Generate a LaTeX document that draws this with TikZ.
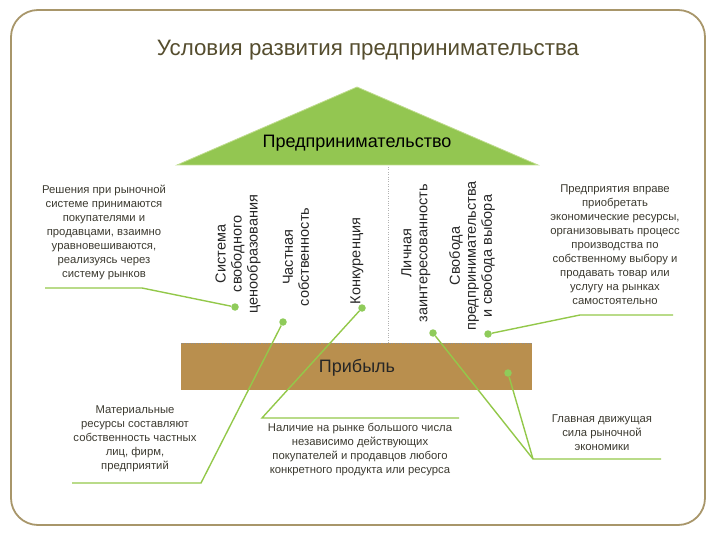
\documentclass[tikz,border=0pt]{standalone}
\usepackage{fontspec}
\setmainfont{Liberation Sans}
\usepackage{tikz}
\usetikzlibrary{positioning}
\definecolor{frameline}{HTML}{A8966A}
\definecolor{titlecol}{HTML}{554D2E}
\definecolor{roofgreen}{HTML}{93C651}
\definecolor{roofedge}{HTML}{BFDC8E}
\definecolor{barbrown}{HTML}{B98F4E}
\definecolor{leadgreen}{HTML}{93C84A}
\definecolor{dotgreen}{HTML}{8FCB5A}
\definecolor{notecol}{HTML}{3C3A30}

\begin{document}
\begin{tikzpicture}[x=1pt,y=-1pt,
    note/.style={align=center,anchor=north,inner sep=0pt,text=notecol,
      font=\fontsize{11.3}{14}\selectfont},
    pillar/.style={rotate=90,align=center,inner sep=0pt,text=black!85,
      font=\fontsize{14.5}{16}\selectfont},
    dot/.style={circle,fill=dotgreen,inner sep=0pt,minimum size=7.5pt},
    leader/.style={leadgreen,line width=1.4pt}]
  \useasboundingbox (0,0) rectangle (720,540);
  \draw[frameline,line width=1.8pt,rounded corners=27pt] (11,10) rectangle (705,525);
  \node[text=titlecol,font=\fontsize{22.3}{25}\selectfont] (title) at (368,50)
    {Условия развития предпринимательства};

  % roof
  \coordinate (apex) at (357,87);
  \coordinate (roofL) at (177,165);
  \coordinate (roofR) at (538,165);
  \filldraw[fill=roofgreen,draw=roofedge,line width=0.8pt] (roofL) -- (apex) -- (roofR) -- cycle;
  \node[font=\fontsize{18}{20}\selectfont] (entre) at (357,143) {Предпринимательство};
  \draw[gray!60,dotted] (388,167) -- (388,343);

  % base
  \fill[barbrown] (181,343) rectangle (532,390);
  \draw[black!45,dotted] (181,343.5) -- (532,343.5);
  \node[text=black!85,font=\fontsize{18}{20}\selectfont] (profit) at (357,368) {Прибыль};

  % pillars
  \node[pillar] (sys) at (238,254) {Система\\свободного\\ценообразования};
  \node[pillar] (own) at (296,257) {Частная\\собственность};
  \node[pillar] (comp) at (357,261) {Конкуренция};
  \node[pillar] (pers) at (416,253) {Личная\\заинтересованность};
  \node[pillar] (free) at (472,256) {Свобода\\предпринимательства\\и свобода выбора};

  % notes
  \node[note] (market) at (104,185) {Решения при рыночной\\системе принимаются\\покупателями и\\продавцами, взаимно\\уравновешиваются,\\реализуясь через\\систему рынков};
  \node[note] (rights) at (615,185) {Предприятия вправе\\приобретать\\экономические ресурсы,\\организовывать процесс\\производства по\\собственному выбору и\\продавать товар или\\услугу на рынках\\самостоятельно};
  \node[note] (matres) at (135,406) {Материальные\\ресурсы составляют\\собственность частных\\лиц, фирм,\\предприятий};
  \node[note] (many) at (360,423) {Наличие на рынке большого числа\\независимо действующих\\покупателей и продавцов любого\\конкретного продукта или ресурса};
  \node[note] (force) at (602,415) {Главная движущая\\сила рыночной\\экономики};

  % dots
  \node[dot] (d1) at (235,307) {};
  \node[dot] (d2) at (283,322) {};
  \node[dot] (d3) at (362,308) {};
  \node[dot] (d4) at (433,333) {};
  \node[dot] (d5) at (488,334) {};
  \node[dot] (d6) at (508,373) {};

  % leaders
  \coordinate (u1a) at (45,288);
  \coordinate (u1b) at (142,288);
  \coordinate (u2a) at (580,315);
  \coordinate (u2b) at (673,315);
  \coordinate (u3a) at (72,483);
  \coordinate (u3b) at (201,483);
  \coordinate (u4a) at (262,418);
  \coordinate (u4b) at (459,418);
  \coordinate (u5a) at (533,459);
  \coordinate (u5b) at (661,459);
  \draw[leader] (u1a) -- (u1b) -- (d1);
  \draw[leader] (d5) -- (u2a) -- (u2b);
  \draw[leader] (d2) -- (u3b) -- (u3a);
  \draw[leader] (d3) -- (u4a) -- (u4b);
  \draw[leader] (d4) -- (u5a) -- (u5b);
  \draw[leader] (d6) -- (u5a);
\end{tikzpicture}
\end{document}
